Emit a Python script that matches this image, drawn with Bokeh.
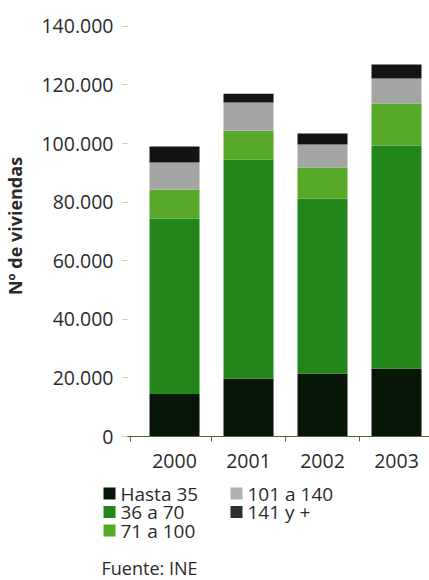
from bokeh.plotting import figure
from bokeh.layouts import column, row
from bokeh.models import (ColumnDataSource, Range1d, FixedTicker, LinearAxis)
from bokeh.core.properties import value
from bokeh.embed import file_html
from bokeh.resources import INLINE

# Dwellings started per year, by useful floor area (m2)
years = ["2000", "2001", "2002", "2003"]
hasta_35 = [14500, 19800, 21500, 23200]
de_36_a_70 = [59900, 74700, 59700, 76100]
de_71_a_100 = [9900, 9900, 10600, 14400]
de_101_a_140 = [9200, 9600, 7900, 8500]
de_141_mas = [5500, 3000, 3700, 4800]

series_names = ["Hasta 35", "36 a 70", "71 a 100", "101 a 140", "141 y +"]
series_keys = ["h35", "s36", "s71", "s101", "s141"]
colors = ["#081607", "#23861a", "#58a92a", "#a4a6a3", "#131313"]
legend_colors = ["#081607", "#23861a", "#58a92a", "#b0b0b0", "#2e2e2e"]

y_ticks = [0, 20000, 40000, 60000, 80000, 100000, 120000, 140000]
y_tick_labels = ["0", "20.000", "40.000", "60.000", "80.000", "100.000", "120.000", "140.000"]

source_note = "Fuente: INE"

FONT = "Open Sans"
TXT = "#2b2b2b"

source = ColumnDataSource(dict(
    x=list(range(len(years))),
    h35=hasta_35, s36=de_36_a_70, s71=de_71_a_100, s101=de_101_a_140, s141=de_141_mas,
))

p = figure(width=429, height=480, output_backend="svg", toolbar_location=None,
           x_range=Range1d(-0.703, 3.446), y_range=Range1d(0, 143700),
           min_border_left=122, min_border_right=0, min_border_top=15,
           min_border_bottom=44, x_axis_type=None)
p.outline_line_color = None
p.grid.grid_line_color = None
p.background_fill_color = "white"
p.border_fill_color = "white"

p.vbar_stack(series_keys, x="x", width=0.676, source=source,
             color=colors, line_color=None)

# y axis: labels with thousand dots, small grey ticks, no axis line
ya = p.yaxis[0]
ya.ticker = FixedTicker(ticks=y_ticks)
ya.major_label_overrides = {t: l for t, l in zip(y_ticks, y_tick_labels)}
ya.axis_line_color = None
ya.major_tick_in = 5
ya.major_tick_out = 0
ya.major_tick_line_color = "#c8c8c8"
ya.minor_tick_line_color = None
ya.major_label_standoff = 9
ya.major_label_text_font = FONT
ya.major_label_text_font_size = "19.5px"
ya.major_label_text_color = TXT
ya.axis_label = "Nº de viviendas"
ya.axis_label_text_font = FONT
ya.axis_label_text_font_size = "18px"
ya.axis_label_text_font_style = "bold"
ya.axis_label_text_color = TXT
ya.axis_label_standoff = 11

# x axis line with ticks between the bars
xa_ticks = LinearAxis(ticker=FixedTicker(ticks=[-0.6, 0.5, 1.5, 2.5]))
xa_ticks.major_label_overrides = {-0.6: "", 0.5: "", 1.5: "", 2.5: ""}
xa_ticks.major_label_text_font_size = "1px"
xa_ticks.major_label_standoff = 0
xa_ticks.axis_line_color = "#556b2f"
xa_ticks.axis_line_width = 1
xa_ticks.major_tick_line_color = "#556b2f"
xa_ticks.major_tick_in = 0
xa_ticks.major_tick_out = 5
xa_ticks.minor_tick_line_color = None
p.add_layout(xa_ticks, "below")

# year labels under each bar
xa_years = LinearAxis(ticker=FixedTicker(ticks=list(range(len(years)))))
xa_years.major_label_overrides = {i: y for i, y in enumerate(years)}
xa_years.axis_line_color = None
xa_years.major_tick_line_color = None
xa_years.minor_tick_line_color = None
xa_years.major_label_standoff = 6
xa_years.major_label_text_font = FONT
xa_years.major_label_text_font_size = "19.5px"
xa_years.major_label_text_color = TXT
p.add_layout(xa_years, "below")

# key panel: two-column legend and the source note, laid out in pixels
key = figure(width=429, height=100, output_backend="svg", toolbar_location=None,
             x_range=Range1d(0, 429), y_range=Range1d(100, 0),
             min_border=0, min_border_left=0, min_border_right=0,
             min_border_top=0, min_border_bottom=0,
             x_axis_type=None, y_axis_type=None)
key.outline_line_color = None
key.grid.grid_line_color = None
key.background_fill_color = "white"
key.border_fill_color = "white"

col_x = [109, 109, 109, 236, 236]
row_y = [13, 31.5, 50, 13, 31.5]
key_src = ColumnDataSource(dict(
    sx=col_x, sy=row_y, tx=[x + 11 for x in col_x], name=series_names, color=legend_colors,
))
key.rect(x="sx", y="sy", width=12, height=12, source=key_src,
         fill_color="color", line_color=None)
key.text(x="tx", y="sy", text="name", source=key_src,
         text_font=value(FONT), text_font_size="19px", text_color=TXT,
         text_baseline="middle", text_align="left")
key.text(x=[101], y=[87], text=[source_note],
         text_font=value(FONT), text_font_size="18px", text_color=TXT,
         text_baseline="middle", text_align="left")

layout = column(p, row(key, spacing=0), spacing=0)
open("out.html", "w").write(file_html(layout, INLINE))
